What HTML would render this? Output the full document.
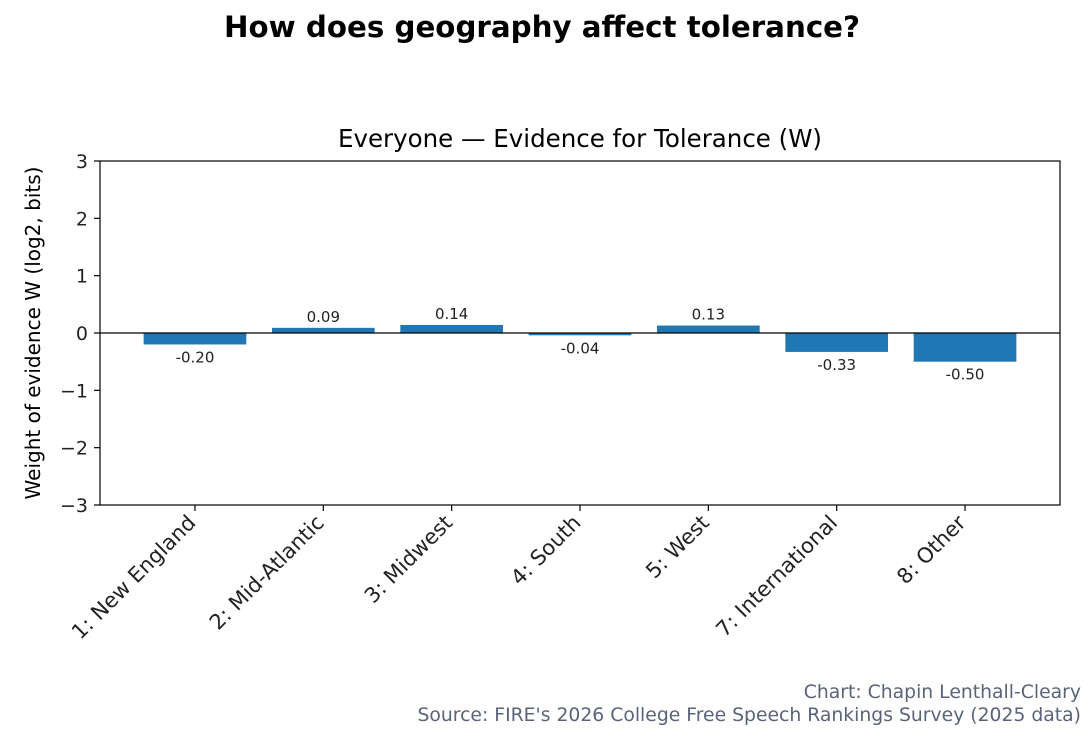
<!DOCTYPE html>
<html><head><meta charset="utf-8"><style>
body{margin:0;background:#fff;font-family:"DejaVu Sans","Liberation Sans",sans-serif;}
</style></head><body>
<svg width="1092" height="732" xmlns="http://www.w3.org/2000/svg" font-family="DejaVu Sans, Liberation Sans, sans-serif">
<text x="542" y="37" text-anchor="middle" font-size="29.3" font-weight="bold">How does geography affect tolerance?</text>
<text x="580" y="147" text-anchor="middle" font-size="24.5">Everyone — Evidence for Tolerance (W)</text>
<text transform="translate(40,333) rotate(-90)" text-anchor="middle" font-size="20">Weight of evidence W (log2, bits)</text>
<g id="plot"></g>
<text x="1081" y="698" text-anchor="end" font-size="18.8" fill="#5a6478">Chart: Chapin Lenthall-Cleary</text>
<text x="1081" y="721" text-anchor="end" font-size="18.8" fill="#5a6478">Source: FIRE's 2026 College Free Speech Rankings Survey (2025 data)</text>
</svg>
<script>
const categories=["1: New England","2: Mid-Atlantic","3: Midwest","4: South","5: West","7: International","8: Other"];
const values=[-0.20,0.09,0.14,-0.04,0.13,-0.33,-0.50];
const yTicks=[-3,-2,-1,0,1,2,3];
const NS="http://www.w3.org/2000/svg";
const L=100,R=1060,T=161,B=505;
const xmin=-0.74,xmax=categories.length-1+0.74;
const x=i=>L+(i-xmin)/(xmax-xmin)*(R-L);
const y=v=>B-(v+3)/6*(B-T);
const g=document.getElementById('plot');
function mk(t,a){const e=document.createElementNS(NS,t);for(const k in a)e.setAttribute(k,a[k]);g.appendChild(e);return e;}
const bw=0.8*(R-L)/(xmax-xmin);
values.forEach((v,i)=>{
 const r=mk('rect',{x:x(i)-bw/2,y:Math.min(y(v),y(0)),width:bw,height:Math.abs(y(v)-y(0)),fill:'#1f77b4'});
 
 
 const t=mk('text',{x:x(i),y:v>=0?y(v)-6:y(v)+18,'text-anchor':'middle','font-size':15,fill:'#222'});
 t.textContent=v.toFixed(2);
 
 
 const tk=mk('line',{x1:x(i),x2:x(i),y1:B,y2:B+6,stroke:'#000','stroke-width':1.2});
 
 
 const lb=mk('text',{transform:`translate(${x(i)+2},${B+19}) rotate(-45)`,'text-anchor':'end','font-size':21,fill:'#222'});
 lb.textContent=categories[i];
 
 
});
yTicks.forEach(v=>{
 const tk=mk('line',{x1:L-6,x2:L,y1:y(v),y2:y(v),stroke:'#000','stroke-width':1.2});
 
 
 const t=mk('text',{x:L-12,y:y(v)+7,'text-anchor':'end','font-size':19,fill:'#222'});
 t.textContent=v<0?'\u2212'+Math.abs(v):String(v);
 
 
});
const z=mk('line',{x1:L,x2:R,y1:y(0),y2:y(0),stroke:'#000','stroke-width':1.2});


const f=mk('rect',{x:L,y:T,width:R-L,height:B-T,fill:'none',stroke:'#000','stroke-width':1.2});


</script>
</body></html>
